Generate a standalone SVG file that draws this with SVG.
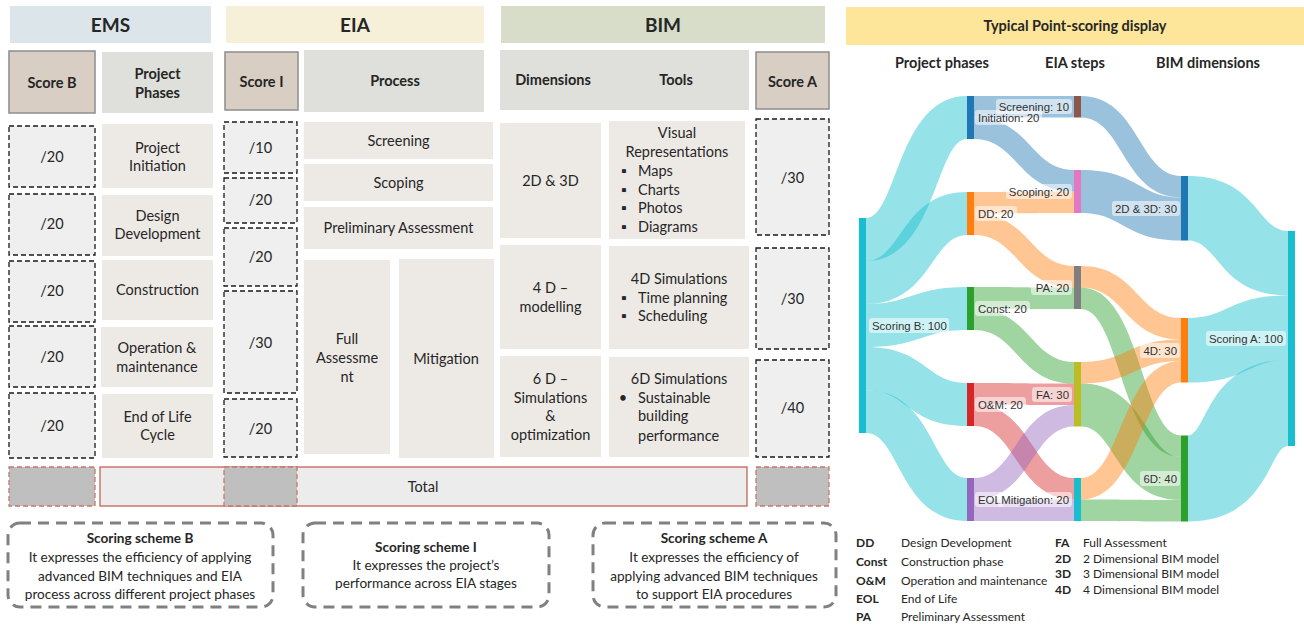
<svg xmlns="http://www.w3.org/2000/svg" width="1304" height="625" viewBox="0 0 1304 625">
<style>
.t{font-family:Lato,"Liberation Sans",sans-serif;fill:#262626;font-size:14.5px;text-anchor:middle}
.b{font-weight:bold}
.l{text-anchor:start}
.cell{fill:#edeae6}
.hdr{fill:#dfdfdb}
.score{fill:#d9cec4;stroke:#8c8c8c;stroke-width:1.5}
.dash{fill:#efefef;stroke:#1a1a1a;stroke-width:1.3;stroke-dasharray:5 3}
.gray{fill:#bfbfbf;stroke:#c8776e;stroke-width:1.3;stroke-dasharray:5 3}
.scheme{fill:none;stroke:#808080;stroke-width:3;stroke-dasharray:11 7}
.sk{font-family:"Liberation Sans",Arial,sans-serif;font-size:11.4px;fill:#333}
.e{text-anchor:end}
.lb{fill:#fff;fill-opacity:0.55}
.lk{fill-opacity:0.45}
.cy{fill:#17becf}.bl{fill:#1f77b4}.or{fill:#ff7f0e}.gr{fill:#2ca02c}.rd{fill:#d62728}.pu{fill:#9467bd}.br{fill:#8c564b}.pk{fill:#e377c2}.gy{fill:#7f7f7f}.ol{fill:#bcbd22}
.lg{font-family:Lato,"Liberation Sans",sans-serif;font-size:12px;fill:#262626}
.sc{font-size:13.6px}
.big{font-size:19px}
</style>

<!-- Section headers -->
<g id="hdr-ems"><rect x="10" y="6" width="201" height="37" fill="#dce5ea"/><text class="t b big" x="110.5" y="31.5">EMS</text></g>
<g id="hdr-eia"><rect x="226" y="6" width="258" height="37" fill="#f6f0d8"/><text class="t b big" x="355" y="31.5">EIA</text></g>
<g id="hdr-bim"><rect x="501" y="6" width="324" height="37" fill="#d7ddc8"/><text class="t b big" x="663" y="31.5">BIM</text></g>

<!-- Column headers -->
<g id="h-scoreb"><rect class="score" x="9" y="51" width="86" height="62"/><text class="t b" x="52" y="88">Score B</text></g>
<g id="h-phases"><rect class="hdr" x="102" y="52" width="111" height="61"/><text class="t b" x="157.5" y="79">Project</text><text class="t b" x="157.5" y="98">Phases</text></g>
<g id="h-scorei"><rect class="score" x="225" y="52" width="73" height="58"/><text class="t b" x="261.5" y="87">Score I</text></g>
<g id="h-process"><rect class="hdr" x="304" y="50" width="180" height="62"/><text class="t b" x="395" y="86">Process</text></g>
<g id="h-dimtools"><rect class="hdr" x="500" y="50" width="249" height="60"/><text class="t b" x="553" y="85">Dimensions</text><text class="t b" x="676" y="85">Tools</text></g>
<g id="h-scorea"><rect class="score" x="756" y="52" width="73" height="57"/><text class="t b" x="792.5" y="87">Score A</text></g>

<!-- Score B -->
<g id="sb1"><rect class="dash" x="9" y="126" width="86" height="61"/><text class="t" x="52" y="162">/20</text></g>
<g id="sb2"><rect class="dash" x="9" y="194" width="86" height="61"/><text class="t" x="52" y="229">/20</text></g>
<g id="sb3"><rect class="dash" x="9" y="261" width="86" height="61"/><text class="t" x="52" y="296">/20</text></g>
<g id="sb4"><rect class="dash" x="9" y="326" width="86" height="61"/><text class="t" x="52" y="362">/20</text></g>
<g id="sb5"><rect class="dash" x="9" y="393" width="86" height="65"/><text class="t" x="52" y="431">/20</text></g>

<!-- Phases -->
<g id="ph1"><rect class="cell" x="102" y="124" width="111" height="64"/><text class="t" x="157.5" y="153">Project</text><text class="t" x="157.5" y="171">Initiation</text></g>
<g id="ph2"><rect class="cell" x="102" y="195" width="111" height="61"/><text class="t" x="157.5" y="221">Design</text><text class="t" x="157.5" y="239">Development</text></g>
<g id="ph3"><rect class="cell" x="102" y="260" width="111" height="60"/><text class="t" x="157.5" y="295">Construction</text></g>
<g id="ph4"><rect class="cell" x="101" y="327" width="112" height="60"/><text class="t" x="157" y="353">Operation &amp;</text><text class="t" x="157" y="372">maintenance</text></g>
<g id="ph5"><rect class="cell" x="102" y="394" width="111" height="64"/><text class="t" x="157.5" y="422">End of Life</text><text class="t" x="157.5" y="440">Cycle</text></g>

<!-- Score I -->
<g id="si1"><rect class="dash" x="224" y="122" width="73" height="51"/><text class="t" x="260.5" y="153">/10</text></g>
<g id="si2"><rect class="dash" x="224" y="178" width="73" height="45"/><text class="t" x="260.5" y="205">/20</text></g>
<g id="si3"><rect class="dash" x="224" y="228" width="73" height="58"/><text class="t" x="260.5" y="262">/20</text></g>
<g id="si4"><rect class="dash" x="224" y="291" width="73" height="102"/><text class="t" x="260.5" y="348">/30</text></g>
<g id="si5"><rect class="dash" x="224" y="399" width="73" height="58"/><text class="t" x="260.5" y="434">/20</text></g>

<!-- Process -->
<g id="pr1"><rect class="cell" x="304" y="122" width="189" height="37"/><text class="t" x="398.5" y="146">Screening</text></g>
<g id="pr2"><rect class="cell" x="304" y="164" width="189" height="37"/><text class="t" x="398.5" y="188">Scoping</text></g>
<g id="pr3"><rect class="cell" x="304" y="207" width="189" height="42"/><text class="t" x="398.5" y="233">Preliminary Assessment</text></g>
<g id="pr4"><rect class="cell" x="304" y="260" width="86" height="194"/><text class="t" x="347" y="344">Full</text><text class="t" x="347" y="363">Assessme</text><text class="t" x="347" y="382">nt</text></g>
<g id="pr5"><rect class="cell" x="399" y="259" width="95" height="199"/><text class="t" x="446" y="364">Mitigation</text></g>

<!-- Dimensions -->
<g id="d1"><rect class="cell" x="500" y="123" width="101" height="115"/><text class="t" x="550.5" y="186">2D &amp; 3D</text></g>
<g id="d2"><rect class="cell" x="500" y="245" width="101" height="104"/><text class="t" x="550.5" y="293">4 D –</text><text class="t" x="550.5" y="312">modelling</text></g>
<g id="d3"><rect class="cell" x="500" y="356" width="101" height="101"/><text class="t" x="550.5" y="384">6 D –</text><text class="t" x="550.5" y="403">Simulations</text><text class="t" x="550.5" y="421">&amp;</text><text class="t" x="550.5" y="440">optimization</text></g>

<!-- Tools -->
<g id="tl1"><rect class="cell" x="609" y="121" width="136" height="118"/>
<text class="t" x="677" y="138">Visual</text><text class="t" x="677" y="157">Representations</text>
<text class="t" x="624" y="176" font-family="DejaVu Sans" font-size="10">▪</text><text class="t l" x="638" y="176">Maps</text>
<text class="t" x="624" y="195" font-family="DejaVu Sans" font-size="10">▪</text><text class="t l" x="638" y="195">Charts</text>
<text class="t" x="624" y="213" font-family="DejaVu Sans" font-size="10">▪</text><text class="t l" x="638" y="213">Photos</text>
<text class="t" x="624" y="232" font-family="DejaVu Sans" font-size="10">▪</text><text class="t l" x="638" y="232">Diagrams</text></g>
<g id="tl2"><rect class="cell" x="609" y="246" width="140" height="103"/>
<text class="t" x="679" y="284">4D Simulations</text>
<text class="t" x="624" y="303" font-family="DejaVu Sans" font-size="10">▪</text><text class="t l" x="638" y="303">Time planning</text>
<text class="t" x="624" y="321" font-family="DejaVu Sans" font-size="10">▪</text><text class="t l" x="638" y="321">Scheduling</text></g>
<g id="tl3"><rect class="cell" x="609" y="357" width="140" height="100"/>
<text class="t" x="679" y="384">6D Simulations</text>
<text class="t" x="623" y="403">•</text><text class="t l" x="638" y="403">Sustainable</text>
<text class="t l" x="638" y="421">building</text><text class="t l" x="638" y="441">performance</text></g>

<!-- Score A -->
<g id="sa1"><rect class="dash" x="756" y="119" width="73" height="116"/><text class="t" x="792.5" y="183">/30</text></g>
<g id="sa2"><rect class="dash" x="756" y="248" width="73" height="101"/><text class="t" x="792.5" y="304">/30</text></g>
<g id="sa3"><rect class="dash" x="756" y="360" width="73" height="97"/><text class="t" x="792.5" y="413">/40</text></g>

<!-- Total row -->
<g id="total"><rect x="100" y="467" width="647" height="39" fill="#ececec" stroke="#c4635a" stroke-width="1.3"/><text class="t" x="423" y="492">Total</text></g>
<g id="tot-b"><rect class="gray" x="9" y="467" width="86" height="39"/></g>
<g id="tot-i"><rect class="gray" x="224" y="467" width="73" height="39"/></g>
<g id="tot-a"><rect class="gray" x="756" y="467" width="73" height="39"/></g>

<!-- Scoring scheme boxes -->
<g id="scheme-b"><rect class="scheme" x="8" y="523" width="265" height="84" rx="12"/>
<text class="t b sc" x="140" y="543">Scoring scheme B</text>
<text class="t sc" x="140" y="562">It expresses the efficiency of applying</text>
<text class="t sc" x="140" y="581">advanced BIM techniques and EIA</text>
<text class="t sc" x="140" y="599">process across different project phases</text></g>
<g id="scheme-i"><rect class="scheme" x="303" y="523" width="246" height="84" rx="12"/>
<text class="t b sc" x="426" y="552">Scoring scheme I</text>
<text class="t sc" x="426" y="570">It expresses the project’s</text>
<text class="t sc" x="426" y="588">performance across EIA stages</text></g>
<g id="scheme-a"><rect class="scheme" x="593" y="523" width="243" height="84" rx="12"/>
<text class="t b sc" x="714" y="543">Scoring scheme A</text>
<text class="t sc" x="714" y="562">It expresses the efficiency of</text>
<text class="t sc" x="714" y="581">applying advanced BIM techniques</text>
<text class="t sc" x="714" y="599">to support EIA procedures</text></g>

<!-- Sankey title and column heads -->
<g id="sankey-title"><rect x="846" y="7" width="458" height="38" fill="#fde699"/><text class="t b" x="1075" y="31" font-size="14.7">Typical Point-scoring display</text></g>
<g id="col-heads">
<text class="t b" x="942" y="68" font-size="14.6">Project phases</text>
<text class="t b" x="1075" y="68" font-size="14.6">EIA steps</text>
<text class="t b" x="1208" y="68" font-size="14.6">BIM dimensions</text></g>

<!-- Sankey links -->
<g id="links" class="lk">
<path class="cy" d="M866,218 C897.3,218 897.3,96 967,96 L967,139 C935.7,139 935.7,261 866,261 Z"/>
<path class="cy" d="M866,261 C902,261 902,192 967,192 L967,235 C931,235 931,304 866,304 Z"/>
<path class="cy" d="M866,304 C911.8,304 911.8,287 967,287 L967,330 C921.2,330 921.2,347 866,347 Z"/>
<path class="cy" d="M866,347 C925.7,347 925.7,383 967,383 L967,426 C907.3,426 907.3,390 866,390 Z"/>
<path class="cy" d="M866,390 C933.1,390 933.1,478 967,478 L967,521 C899.9,521 899.9,433 866,433 Z"/>

<path class="bl" d="M974,96 L1074,96 L1074,117.5 L974,117.5 Z"/>
<path class="bl" d="M974,117.5 C1030.1,117.5 1030.1,170 1074,170 L1074,191.5 C1017.9,191.5 1017.9,139 974,139 Z"/>
<path class="or" d="M974,192 C1024,192 1024,191.5 1074,191.5 L1074,213 C1024,213 1024,213.5 974,213.5 Z"/>
<path class="or" d="M974,213.5 C1030.1,213.5 1030.1,266 1074,266 L1074,287.5 C1017.9,287.5 1017.9,235 974,235 Z"/>
<path class="gr" d="M974,287 C1024,287 1024,287.5 1074,287.5 L1074,309 C1024,309 1024,308.5 974,308.5 Z"/>
<path class="gr" d="M974,308.5 C1030.2,308.5 1030.2,362 1074,362 L1074,383.5 C1017.8,383.5 1017.8,330 974,330 Z"/>
<path class="rd" d="M974,383 C1024,383 1024,383.5 1074,383.5 L1074,405 C1024,405 1024,404.5 974,404.5 Z"/>
<path class="rd" d="M974,404.5 C1031.6,404.5 1031.6,478 1074,478 L1074,499.5 C1016.4,499.5 1016.4,426 974,426 Z"/>
<path class="pu" d="M974,478 C1016.4,478 1016.4,405 1074,405 L1074,426.5 C1031.6,426.5 1031.6,499.5 974,499.5 Z"/>
<path class="pu" d="M974,499.5 L1074,499.5 L1074,521 L974,521 Z"/>

<path class="bl" d="M1081,96 C1138.9,96 1138.9,176 1181,176 L1181,197.5 C1123.1,197.5 1123.1,117.5 1081,117.5 Z"/>
<path class="bl" d="M1081,170 C1138.3,170 1138.3,197.5 1181,197.5 L1181,240.5 C1123.7,240.5 1123.7,213 1081,213 Z"/>
<path class="or" d="M1081,266 C1137.1,266 1137.1,318 1181,318 L1181,339.5 C1124.9,339.5 1124.9,287.5 1081,287.5 Z"/>
<path class="gr" d="M1081,287.5 C1141.3,287.5 1141.3,435.5 1181,435.5 L1181,457 C1120.7,457 1120.7,309 1081,309 Z"/>
<path class="or" d="M1081,362 C1127.9,362 1127.9,339.5 1181,339.5 L1181,361 C1134.1,361 1134.1,383.5 1081,383.5 Z"/>
<path class="gr" d="M1081,383.5 C1146.2,383.5 1146.2,457 1181,457 L1181,500 C1115.8,500 1115.8,426.5 1081,426.5 Z"/>
<path class="or" d="M1081,478 C1121.5,478 1121.5,361 1181,361 L1181,382.5 C1140.5,382.5 1140.5,499.5 1081,499.5 Z"/>
<path class="gr" d="M1081,499.5 C1131,499.5 1131,500 1181,500 L1181,521.5 C1131,521.5 1131,521 1081,521 Z"/>

<path class="cy" d="M1188,176 C1257,176 1257,231 1288,231 L1288,295.5 C1219,295.5 1219,240.5 1188,240.5 Z"/>
<path class="cy" d="M1188,318 C1228.8,318 1228.8,295.5 1288,295.5 L1288,360 C1247.2,360 1247.2,382.5 1188,382.5 Z"/>
<path class="cy" d="M1188,435.5 C1207.2,435.5 1207.2,360 1288,360 L1288,446 C1268.8,446 1268.8,521.5 1188,521.5 Z"/>
</g>

<!-- Sankey nodes -->
<g id="n-scoringB"><rect class="cy" x="859" y="218" width="7" height="215"/><rect class="lb" x="869" y="318" width="80" height="15" rx="3"/><text class="sk" x="872" y="329.5">Scoring B: 100</text></g>
<g id="n-init"><rect class="bl" x="967" y="96" width="7" height="43"/><rect class="lb" x="975" y="110" width="67" height="15" rx="3"/><text class="sk" x="978" y="121.5">Initiation: 20</text></g>
<g id="n-dd"><rect class="or" x="967" y="192" width="7" height="43"/><rect class="lb" x="975" y="206" width="42" height="15" rx="3"/><text class="sk" x="978" y="217.5">DD: 20</text></g>
<g id="n-const"><rect class="gr" x="967" y="287" width="7" height="43"/><rect class="lb" x="975" y="301" width="55" height="15" rx="3"/><text class="sk" x="978" y="312.5">Const: 20</text></g>
<g id="n-om"><rect class="rd" x="967" y="383" width="7" height="43"/><rect class="lb" x="975" y="397" width="51" height="15" rx="3"/><text class="sk" x="978" y="408.5">O&amp;M: 20</text></g>
<g id="n-eol"><rect class="pu" x="967" y="478" width="7" height="43"/><rect class="lb" x="975" y="492" width="28" height="15" rx="3"/><text class="sk" x="978" y="503.5">EOL</text></g>
<g id="n-screening"><rect class="br" x="1074" y="96" width="7" height="21.5"/><rect class="lb" x="996" y="99" width="76" height="15" rx="3"/><text class="sk e" x="1069" y="110.5">Screening: 10</text></g>
<g id="n-scoping"><rect class="pk" x="1074" y="170" width="7" height="43"/><rect class="lb" x="1006" y="184" width="66" height="15" rx="3"/><text class="sk e" x="1069" y="195.5">Scoping: 20</text></g>
<g id="n-pa"><rect class="gy" x="1074" y="266" width="7" height="43"/><rect class="lb" x="1031" y="280" width="41" height="15" rx="3"/><text class="sk e" x="1069" y="291.5">PA: 20</text></g>
<g id="n-fa"><rect class="ol" x="1074" y="362" width="7" height="64.5"/><rect class="lb" x="1032" y="387" width="40" height="15" rx="3"/><text class="sk e" x="1069" y="398.5">FA: 30</text></g>
<g id="n-mitigation"><rect class="cy" x="1074" y="478" width="7" height="43"/><rect class="lb" x="998" y="492" width="74" height="15" rx="3"/><text class="sk e" x="1069" y="503.5">Mitigation: 20</text></g>
<g id="n-2d3d"><rect class="bl" x="1181" y="176" width="7" height="64.5"/><rect class="lb" x="1112" y="201" width="68" height="15" rx="3"/><text class="sk e" x="1177" y="212.5">2D &amp; 3D: 30</text></g>
<g id="n-4d"><rect class="or" x="1181" y="318" width="7" height="64.5"/><rect class="lb" x="1140" y="343" width="40" height="15" rx="3"/><text class="sk e" x="1177" y="354.5">4D: 30</text></g>
<g id="n-6d"><rect class="gr" x="1181" y="435.5" width="7" height="86"/><rect class="lb" x="1140" y="471" width="40" height="15" rx="3"/><text class="sk e" x="1177" y="482.5">6D: 40</text></g>
<g id="n-scoringA"><rect class="cy" x="1288" y="231" width="7" height="215"/><rect class="lb" x="1206" y="331" width="80" height="15" rx="3"/><text class="sk e" x="1283" y="342.5">Scoring A: 100</text></g>

<!-- Legend -->
<g id="legend">
<text class="lg" x="856" y="547" font-weight="bold">DD</text><text class="lg" x="901" y="547">Design Development</text>
<text class="lg" x="856" y="566" font-weight="bold">Const</text><text class="lg" x="901" y="566">Construction phase</text>
<text class="lg" x="856" y="585" font-weight="bold">O&amp;M</text><text class="lg" x="901" y="585">Operation and maintenance</text>
<text class="lg" x="856" y="603" font-weight="bold">EOL</text><text class="lg" x="901" y="603">End of Life</text>
<text class="lg" x="856" y="621" font-weight="bold">PA</text><text class="lg" x="901" y="621">Preliminary Assessment</text>
<text class="lg" x="1055" y="547" font-weight="bold">FA</text><text class="lg" x="1083" y="547">Full Assessment</text>
<text class="lg" x="1055" y="563" font-weight="bold">2D</text><text class="lg" x="1083" y="563">2 Dimensional BIM model</text>
<text class="lg" x="1055" y="578" font-weight="bold">3D</text><text class="lg" x="1083" y="578">3 Dimensional BIM model</text>
<text class="lg" x="1055" y="594" font-weight="bold">4D</text><text class="lg" x="1083" y="594">4 Dimensional BIM model</text>
</g>
</svg>
